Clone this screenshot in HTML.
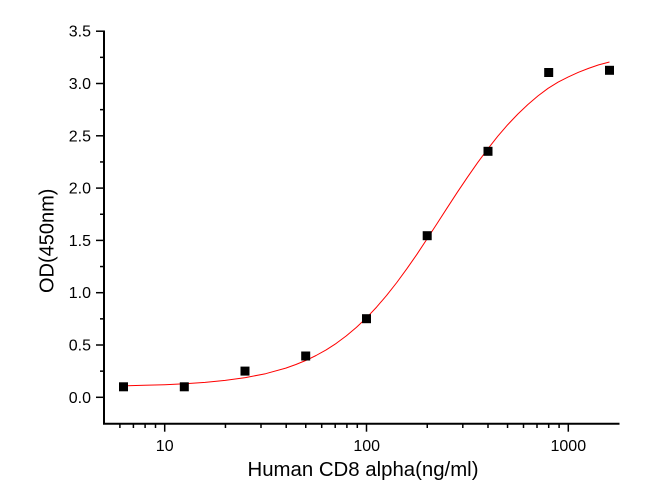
<!DOCTYPE html>
<html>
<head>
<meta charset="utf-8">
<style>
  html, body { margin: 0; padding: 0; background: #ffffff; }
  svg { display: block; }
  text { font-family: "Liberation Sans", Arial, sans-serif; fill: #000; }
</style>
</head>
<body>
<svg width="646" height="499" viewBox="0 0 646 499" xmlns="http://www.w3.org/2000/svg">
  <rect x="0" y="0" width="646" height="499" fill="#ffffff"/>

  <!-- Axes -->
  <g stroke="#000" stroke-width="2" fill="none">
    <line x1="104" y1="30.5" x2="104" y2="424.5"/>
    <line x1="103" y1="423.7" x2="619.5" y2="423.7"/>
  </g>

  <!-- Y ticks -->
  <g stroke="#000" stroke-width="1.5">
    <line x1="96" y1="397.3" x2="104" y2="397.3"/>
    <line x1="96" y1="345.0" x2="104" y2="345.0"/>
    <line x1="96" y1="292.7" x2="104" y2="292.7"/>
    <line x1="96" y1="240.4" x2="104" y2="240.4"/>
    <line x1="96" y1="188.1" x2="104" y2="188.1"/>
    <line x1="96" y1="135.8" x2="104" y2="135.8"/>
    <line x1="96" y1="83.5" x2="104" y2="83.5"/>
    <line x1="96" y1="31.2" x2="104" y2="31.2"/>
    <line x1="100" y1="371.15" x2="104" y2="371.15"/>
    <line x1="100" y1="318.85" x2="104" y2="318.85"/>
    <line x1="100" y1="266.55" x2="104" y2="266.55"/>
    <line x1="100" y1="214.25" x2="104" y2="214.25"/>
    <line x1="100" y1="161.95" x2="104" y2="161.95"/>
    <line x1="100" y1="109.65" x2="104" y2="109.65"/>
    <line x1="100" y1="57.35" x2="104" y2="57.35"/>
  </g>

  <!-- X ticks -->
  <g stroke="#000" stroke-width="1.5">
    <line x1="164.7" y1="423.7" x2="164.7" y2="431.7"/>
    <line x1="366.5" y1="423.7" x2="366.5" y2="431.7"/>
    <line x1="568.3" y1="423.7" x2="568.3" y2="431.7"/>
    <line x1="119.9" y1="423.7" x2="119.9" y2="428"/>
    <line x1="133.4" y1="423.7" x2="133.4" y2="428"/>
    <line x1="145.1" y1="423.7" x2="145.1" y2="428"/>
    <line x1="155.5" y1="423.7" x2="155.5" y2="428"/>
    <line x1="225.45" y1="423.7" x2="225.45" y2="428"/>
    <line x1="261.0" y1="423.7" x2="261.0" y2="428"/>
    <line x1="286.2" y1="423.7" x2="286.2" y2="428"/>
    <line x1="305.75" y1="423.7" x2="305.75" y2="428"/>
    <line x1="321.7" y1="423.7" x2="321.7" y2="428"/>
    <line x1="335.2" y1="423.7" x2="335.2" y2="428"/>
    <line x1="346.9" y1="423.7" x2="346.9" y2="428"/>
    <line x1="357.3" y1="423.7" x2="357.3" y2="428"/>
    <line x1="427.25" y1="423.7" x2="427.25" y2="428"/>
    <line x1="462.8" y1="423.7" x2="462.8" y2="428"/>
    <line x1="488.0" y1="423.7" x2="488.0" y2="428"/>
    <line x1="507.55" y1="423.7" x2="507.55" y2="428"/>
    <line x1="523.5" y1="423.7" x2="523.5" y2="428"/>
    <line x1="537.0" y1="423.7" x2="537.0" y2="428"/>
    <line x1="548.7" y1="423.7" x2="548.7" y2="428"/>
    <line x1="559.1" y1="423.7" x2="559.1" y2="428"/>
  </g>

  <!-- Y tick labels -->
  <g font-size="16" text-anchor="end">
    <text x="91" y="402.8">0.0</text>
    <text x="91" y="350.5">0.5</text>
    <text x="91" y="298.2">1.0</text>
    <text x="91" y="245.9">1.5</text>
    <text x="91" y="193.6">2.0</text>
    <text x="91" y="141.3">2.5</text>
    <text x="91" y="89.0">3.0</text>
    <text x="91" y="36.7">3.5</text>
  </g>

  <!-- X tick labels -->
  <g font-size="16" text-anchor="middle">
    <text x="164.7" y="451">10</text>
    <text x="366.7" y="451">100</text>
    <text x="568.3" y="451">1000</text>
  </g>

  <!-- Axis titles -->
  <text x="363" y="476" font-size="20" text-anchor="middle" textLength="231" lengthAdjust="spacingAndGlyphs">Human CD8 alpha(ng/ml)</text>
  <text transform="translate(53.5,240.8) rotate(-90)" font-size="20" text-anchor="middle">OD(450nm)</text>

  <!-- Fitted curve -->
  <polyline fill="none" stroke="#ff0000" stroke-width="1" stroke-linejoin="round"
    points="123.5,385.8 144.5,385.3 164.7,384.7 184.9,383.7 205.1,382.4 225.2,380.4 245.4,377.6 265.6,373.7 285.8,368.1 295.9,364.5 306.0,360.4 316.05,355.5 326.1,349.9 336.2,343.4 346.3,335.9 356.4,327.4 366.5,317.8 376.6,307.1 386.7,295.3 396.8,282.5 406.9,268.7 417.0,254.2 427.0,239.0 437.1,223.5 447.2,207.8 457.3,192.3 467.4,177.3 477.5,162.8 487.6,149.2 497.7,136.3 507.8,124.6 517.9,114.0 527.9,104.5 538.0,95.9 548.1,88.3 558.2,82.1 568.3,76.9 578.4,72.3 588.5,68.4 598.6,64.9 609.5,62.0"/>

  <!-- Data markers -->
  <g fill="#000">
    <rect x="119" y="382.3" width="9" height="9"/>
    <rect x="179.8" y="382.3" width="9" height="9"/>
    <rect x="240.5" y="366.6" width="9" height="9"/>
    <rect x="301.2" y="351.5" width="9" height="9"/>
    <rect x="362" y="314.2" width="9" height="9"/>
    <rect x="422.7" y="231.2" width="9" height="9"/>
    <rect x="483.5" y="146.8" width="9" height="9"/>
    <rect x="544.2" y="68" width="9" height="9"/>
    <rect x="605" y="65.8" width="9" height="9"/>
  </g>
</svg>
</body>
</html>
